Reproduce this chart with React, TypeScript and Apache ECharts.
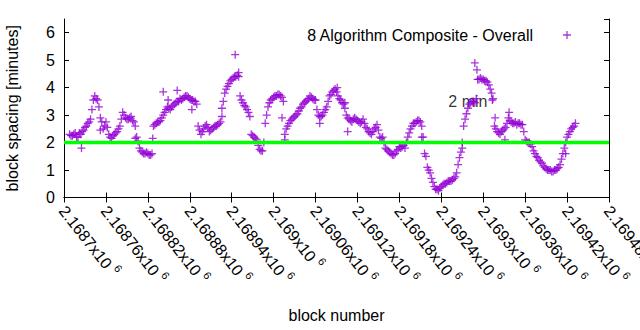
import React, { useEffect, useRef } from "react";
import * as echarts from "echarts";

const X_MIN = 2168700;
const X_MAX = 2169480;
const X_STEP = 60;
const Y_MIN = 0;
const Y_MAX = 6.5;
const Y_STEP = 1;

const SERIES_NAME = "8 Algorithm Composite - Overall";
const THRESHOLD = 2;
const THRESHOLD_LABEL = "2 min";
const THRESHOLD_LABEL_AT: [number, number] = [2169250, 3.5];

// regular sampling of the dense curve: block = START_BLOCK + i * BLOCK_STEP
const START_BLOCK = 2168708;
const BLOCK_STEP = 4;
const spacing = [
  2.3, 2.25, 2.35, 2.2, 2.3, 2.45, 2.6, 2.75, 3.2, 3.7,
  3.55, 2.9, 2.5, 2.75, 2.3, 2.15, 2.3, 2.4, 2.6, 3.1,
  2.9, 2.85, 2.95, 2.75, 2.2, 1.8, 1.65, 1.6, 1.6, 1.55,
  2.6, 2.7, 2.75, 2.9, 3.1, 3.3, 3.2, 3.35, 3.45, 3.5,
  3.55, 3.65, 3.7, 3.6, 3.55, 3.5, 2.6, 2.3, 2.5, 2.65,
  2.4, 2.5, 2.6, 2.65, 2.75, 3.5, 3.95, 4.15, 4.3, 4.4,
  4.45, 3.7, 3.45, 3.3, 3.1, 2.3, 2.2, 2.1, 1.75, 1.7,
  2.7, 3.3, 3.55, 3.65, 3.7, 3.75, 3.65, 2.3, 2.6, 2.8,
  2.9, 3.0, 3.15, 3.3, 3.45, 3.55, 3.7, 3.6, 3.55, 3.0,
  2.95, 3.1, 3.3, 3.7, 3.85, 3.95, 3.7, 3.55, 3.4, 3.0,
  2.85, 2.75, 2.9, 2.8, 2.7, 2.85, 2.55, 2.4, 2.3, 2.5,
  2.65, 2.2, 2.2, 1.8, 1.7, 1.6, 1.55, 1.7, 1.85, 1.85,
  1.8, 2.2, 2.5, 2.7, 2.75, 2.8, 2.6, 1.6, 1.1, 0.9,
  0.55, 0.3, 0.25, 0.4, 0.5, 0.55, 0.6, 0.65, 0.75, 1.2,
  1.65, 2.6, 3.05, 3.4, 3.5, 3.45, 4.3, 4.35, 4.3, 4.25,
  4.1, 3.8, 2.6, 2.4, 2.3, 2.45, 2.55, 2.9, 2.75, 2.7,
  2.65, 2.7, 2.65, 2.1, 2.0, 1.95, 1.7, 1.5, 1.35, 1.25,
  1.1, 1.0, 1.0, 0.95, 1.0, 1.1, 1.4, 1.8, 2.2, 2.4,
  2.55, 2.7,
];

// a second pass of readings between the ones above (offset by 2 blocks)
const MID_START_BLOCK = 2168710;
const spacingMid = [
  2.25, 2.3, 2.2, 2.35, 2.4, 2.55, 2.7, 2.85, 3.55, 3.6,
  3.3, 2.75, 2.6, 2.55, 2.2, 2.25, 2.35, 2.5, 2.85, 3.0,
  2.85, 2.9, 2.8, 2.6, 2.05, 1.7, 1.6, 1.65, 1.55, 1.6,
  2.65, 2.75, 2.8, 3.0, 3.2, 3.25, 3.3, 3.4, 3.5, 3.6,
  3.6, 3.7, 3.65, 3.55, 3.5, 3.4, 2.45, 2.4, 2.6, 2.55,
  2.45, 2.55, 2.6, 2.7, 3.25, 3.8, 4.05, 4.25, 4.35, 4.4,
  4.4, 3.55, 3.35, 3.2, 2.95, 2.25, 2.15, 1.9, 1.7, 2.0,
  3.0, 3.45, 3.6, 3.7, 3.75, 3.7, 3.5, 2.5, 2.7, 2.85,
  2.95, 3.05, 3.25, 3.4, 3.5, 3.6, 3.65, 3.55, 3.2, 2.95,
  3.0, 3.2, 3.5, 3.75, 3.9, 3.85, 3.6, 3.45, 3.25, 2.9,
  2.8, 2.85, 2.85, 2.75, 2.75, 2.7, 2.5, 2.35, 2.4, 2.55,
  2.45, 2.15, 2.0, 1.75, 1.65, 1.55, 1.6, 1.75, 1.8, 1.9,
  2.0, 2.35, 2.6, 2.7, 2.8, 2.75, 2.2, 1.5, 1.0, 0.7,
  0.4, 0.3, 0.35, 0.45, 0.5, 0.6, 0.6, 0.7, 0.9, 1.45,
  2.0, 2.85, 3.25, 3.45, 3.5, 3.6, 4.3, 4.3, 4.25, 4.2,
  3.95, 3.6, 2.5, 2.35, 2.4, 2.5, 2.7, 2.8, 2.7, 2.75,
  2.7, 2.65, 2.4, 2.05, 2.0, 1.85, 1.6, 1.45, 1.3, 1.15,
  1.05, 1.0, 0.95, 1.0, 1.05, 1.2, 1.6, 2.0, 2.3, 2.5,
  2.6,
];

// scattered individual points away from the main curve: [block, minutes]
const strayPoints: [number, number][] = [
  [2168725, 1.8], [2168752, 2.45], [2168802, 2.15], [2168827, 2.15],
  [2168842, 3.85], [2168849, 3.55], [2168862, 3.9], [2168883, 3.2],
  [2168926, 2.95], [2168945, 5.2], [2168950, 4.55], [2169012, 2.9],
  [2169016, 2.1], [2169066, 2.7], [2169091, 4.0], [2169102, 3.45],
  [2169106, 2.4], [2169212, 2.2], [2169270, 1.8], [2169288, 4.9],
  [2169291, 4.65], [2169313, 3.55], [2169317, 2.9], [2169331, 2.1],
  [2169337, 3.1], [2169418, 1.6],
];

const PURPLE = "#9400d3";
const GREEN = "#00ff00";
const FONT = "Liberation Sans, Arial, sans-serif";
const PLUS = "path://M4.2,0H5.8V4.2H10V5.8H5.8V10H4.2V5.8H0V4.2H4.2Z";

export default function App() {
  const ref = useRef<HTMLDivElement>(null);
  useEffect(() => {
    if (!ref.current) return;
    const chart = echarts.init(ref.current, null, { renderer: "svg" });
    const points = spacing
      .map((v, i) => [START_BLOCK + i * BLOCK_STEP, v])
      .concat(spacingMid.map((v, i) => [MID_START_BLOCK + i * BLOCK_STEP, v]))
      .concat(strayPoints);
    const axisLine = { show: true, lineStyle: { color: "#000", width: 1 } };
    const tick = { show: true, inside: true, length: 5, lineStyle: { color: "#000" } };
    chart.setOption({
      animation: false,
      backgroundColor: "#fff",
      textStyle: { fontFamily: FONT },
      grid: {
        left: 64,
        right: 31,
        top: 19,
        bottom: 132.5,
        containLabel: false,
        outerBoundsMode: "none",
      },
      legend: {
        data: [{ name: SERIES_NAME, icon: PLUS }],
        right: 64,
        top: 22,
        align: "right",
        itemWidth: 8,
        itemHeight: 8,
        textStyle: { fontFamily: FONT, fontSize: 16, color: "#000", padding: [0, 25, 0, 0] },
        selectedMode: false,
      },
      xAxis: [
        {
          type: "value",
          min: X_MIN,
          max: X_MAX,
          interval: X_STEP,
          position: "bottom",
          name: "block number",
          nameLocation: "middle",
          nameGap: 110,
          nameTextStyle: { fontFamily: FONT, fontSize: 16, color: "#000" },
          axisLine,
          axisTick: tick,
          splitLine: { show: false },
          axisLabel: {
            rotate: -52,
            margin: 9,
            fontFamily: FONT,
            fontSize: 16,
            color: "#000",
            formatter: (v: number) => {
              const m = parseFloat((v / 1e6).toPrecision(6));
              return `{b|${m}x10 }{sup|6}`;
            },
            rich: {
              b: { fontFamily: FONT, fontSize: 16, color: "#000", lineHeight: 20, verticalAlign: "bottom" },
              sup: { fontFamily: FONT, fontSize: 11, color: "#000", lineHeight: 12, verticalAlign: "top" },
            },
          },
        },
        {
          type: "value",
          min: X_MIN,
          max: X_MAX,
          interval: X_STEP,
          position: "top",
          axisLine,
          axisTick: tick,
          axisLabel: { show: false },
          splitLine: { show: false },
        },
      ],
      yAxis: [
        {
          type: "value",
          min: Y_MIN,
          max: Y_MAX,
          interval: Y_STEP,
          position: "left",
          name: "block spacing [minutes]",
          nameLocation: "middle",
          nameRotate: 90,
          nameGap: 44,
          nameTextStyle: { fontFamily: FONT, fontSize: 16, color: "#000" },
          axisLine,
          axisTick: tick,
          splitLine: { show: false },
          axisLabel: {
            margin: 9,
            fontFamily: FONT,
            fontSize: 16,
            color: "#000",
            showMaxLabel: false,
          },
        },
        {
          type: "value",
          min: Y_MIN,
          max: Y_MAX,
          interval: Y_STEP,
          position: "right",
          axisLine,
          axisTick: tick,
          axisLabel: { show: false },
          splitLine: { show: false },
        },
      ],
      series: [
        {
          name: "label",
          type: "scatter",
          data: [THRESHOLD_LABEL_AT],
          symbolSize: 0.01,
          silent: true,
          z: 1,
          label: {
            show: true,
            position: "right",
            distance: 0,
            formatter: THRESHOLD_LABEL,
            fontFamily: FONT,
            fontSize: 16,
            color: "#000",
          },
        },
        {
          name: SERIES_NAME,
          type: "scatter",
          data: points,
          symbol: PLUS,
          symbolSize: 8,
          itemStyle: { color: PURPLE },
          z: 2,
        },
        {
          name: "threshold",
          type: "line",
          data: [
            [X_MIN, THRESHOLD],
            [X_MAX, THRESHOLD],
          ],
          symbol: "none",
          lineStyle: { color: GREEN, width: 3.5 },
          z: 3,
        },
      ],
    });
    return () => chart.dispose();
  }, []);
  return (
    <div
      ref={ref}
      style={{ position: "fixed", left: 0, top: 0, width: 640, height: 330 }}
    />
  );
}
